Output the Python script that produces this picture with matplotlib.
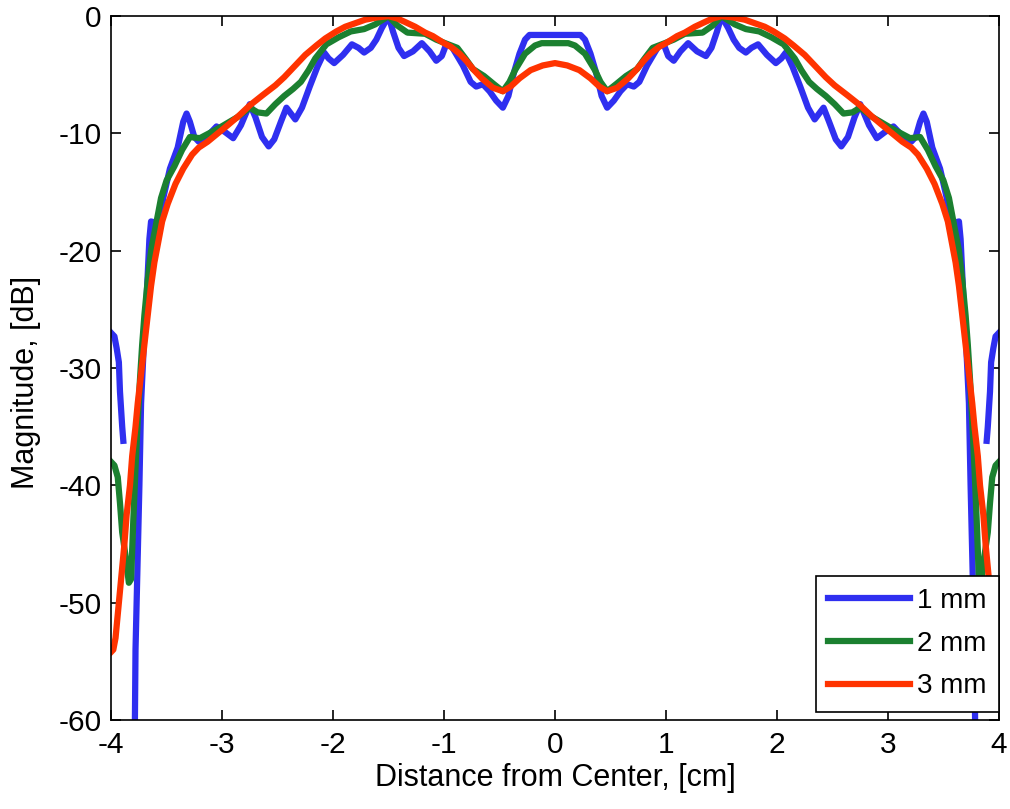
import numpy as np
import matplotlib
matplotlib.use('Agg')
import matplotlib.pyplot as plt

plt.rcParams['font.family'] = ['Liberation Sans', 'DejaVu Sans']

# --- Data (left half, x <= 0; the pattern is symmetric about x = 0) ---
x_1mm = [-4.00, -3.97, -3.95, -3.93, -3.92, -3.90, -3.89, -3.88, -3.79, -3.78,
         -3.76, -3.745, -3.73, -3.715, -3.70, -3.685, -3.67, -3.655, -3.64, -3.60,
         -3.565, -3.53, -3.47, -3.40, -3.35, -3.32, -3.29, -3.25, -3.21, -3.13,
         -3.05, -2.97, -2.90, -2.83, -2.75, -2.70, -2.64, -2.58, -2.53, -2.47,
         -2.42, -2.34, -2.28, -2.21, -2.14, -2.08, -2.04, -1.99, -1.91, -1.83,
         -1.77, -1.72, -1.66, -1.61, -1.56, -1.50, -1.46, -1.41, -1.36, -1.28,
         -1.20, -1.13, -1.07, -1.02, -0.98, -0.93, -0.88, -0.83, -0.76, -0.71,
         -0.65, -0.59, -0.53, -0.47, -0.42, -0.37, -0.32, -0.27, -0.23, -0.10, 0.00]
y_1mm = [-27.0, -27.3, -28.3, -29.5, -32.0, -35.0, -36.2, np.nan, -65.0, -54.0,
         -46.0, -40.0, -33.0, -30.0, -27.0, -25.0, -22.0, -19.0, -17.5, -17.6,
         -17.4, -15.5, -13.0, -11.2, -9.0, -8.3, -9.0, -10.3, -10.7, -10.2,
         -9.4, -9.9, -10.4, -9.3, -7.5, -8.6, -10.3, -11.1, -10.5, -9.0,
         -7.8, -8.8, -7.8, -6.0, -4.3, -3.1, -3.6, -4.0, -3.3, -2.4,
         -2.7, -3.1, -2.7, -2.0, -1.0, 0.0, -1.3, -2.7, -3.4, -3.0,
         -2.3, -3.0, -3.8, -3.4, -2.4, -2.6, -3.4, -4.2, -5.6, -6.0,
         -5.8, -6.4, -7.2, -7.8, -6.8, -4.8, -3.2, -2.0, -1.6, -1.6, -1.6]

x_2mm = [-4.00, -3.97, -3.94, -3.92, -3.90, -3.87, -3.84, -3.82, -3.80, -3.78,
         -3.76, -3.74, -3.72, -3.70, -3.67, -3.64, -3.60, -3.55, -3.50, -3.43,
         -3.36, -3.29, -3.20, -3.12, -3.04, -2.95, -2.86, -2.75, -2.68, -2.60,
         -2.52, -2.44, -2.36, -2.29, -2.22, -2.16, -2.06, -1.95, -1.84, -1.72,
         -1.62, -1.50, -1.42, -1.33, -1.17, -1.07, -0.99, -0.88, -0.80, -0.74,
         -0.64, -0.55, -0.47, -0.41, -0.36, -0.27, -0.18, -0.12, 0.00]
y_2mm = [-38.0, -38.3, -39.3, -41.5, -44.0, -46.0, -48.3, -48.0, -43.0, -38.5,
         -34.5, -31.0, -28.0, -25.5, -22.5, -20.0, -18.0, -15.5, -14.0, -12.8,
         -11.4, -10.3, -10.4, -10.0, -9.6, -9.1, -8.6, -7.8, -8.2, -8.3,
         -7.5, -6.8, -6.2, -5.6, -4.6, -3.6, -2.4, -1.8, -1.3, -1.1,
         -0.7, 0.0, -0.8, -1.4, -1.5, -2.0, -2.3, -2.7, -3.7, -4.5,
         -5.1, -5.8, -6.4, -5.6, -4.6, -3.2, -2.5, -2.3, -2.3]

x_3mm = [-4.00, -3.98, -3.96, -3.94, -3.92, -3.90, -3.88, -3.86, -3.83, -3.81,
         -3.78, -3.76, -3.73, -3.70, -3.67, -3.64, -3.61, -3.58, -3.54, -3.49,
         -3.42, -3.35, -3.27, -3.21, -3.13, -3.04, -2.95, -2.85, -2.75, -2.63,
         -2.52, -2.44, -2.35, -2.25, -2.15, -2.07, -1.97, -1.89, -1.80, -1.71,
         -1.60, -1.50, -1.42, -1.35, -1.26, -1.17, -1.10, -1.00, -0.94, -0.86,
         -0.80, -0.73, -0.66, -0.56, -0.47, -0.40, -0.32, -0.22, -0.11, 0.00]
y_3mm = [-54.2, -54.0, -53.0, -51.0, -49.0, -47.0, -45.0, -42.5, -40.0, -37.5,
         -35.0, -33.0, -30.5, -28.0, -25.5, -23.0, -21.0, -19.5, -17.5, -16.0,
         -14.3, -13.0, -11.8, -11.2, -10.7, -10.0, -9.3, -8.5, -7.6, -6.7,
         -5.9, -5.2, -4.3, -3.3, -2.5, -1.9, -1.3, -0.9, -0.6, -0.3,
         -0.1, 0.0, -0.2, -0.5, -0.9, -1.4, -1.7, -2.3, -2.6, -3.2,
         -3.8, -4.6, -5.3, -6.1, -6.4, -6.0, -5.3, -4.6, -4.2, -4.0]

labels = ['1 mm', '2 mm', '3 mm']
colors = ['#2f2ff0', '#1b8030', '#ff3300']

x_ticks = [-4, -3, -2, -1, 0, 1, 2, 3, 4]
y_ticks = [-60, -50, -40, -30, -20, -10, 0]


def mirror(xs, ys):
    xs = np.asarray(xs, dtype=float)
    ys = np.asarray(ys, dtype=float)
    return (np.concatenate([xs, -xs[::-1][1:]]),
            np.concatenate([ys, ys[::-1][1:]]))


fig = plt.figure(figsize=(10.10, 8.09), dpi=100)
ax = fig.add_axes([0.110, 0.110, 0.879, 0.870])

for (xs, ys), lab, col in zip([mirror(x_1mm, y_1mm), mirror(x_2mm, y_2mm), mirror(x_3mm, y_3mm)],
                              labels, colors):
    ax.plot(xs, ys, color=col, lw=4.5, label=lab)

ax.set_xlim(-4, 4)
ax.set_ylim(-60, 0)
ax.set_xticks(x_ticks)
ax.set_yticks(y_ticks)
ax.set_xticklabels([str(t) for t in x_ticks])
ax.set_yticklabels([str(t) for t in y_ticks])
ax.tick_params(direction='in', length=7, width=1.2, top=True, right=True,
               labelsize=21.5)
ax.tick_params(axis='y', pad=7)
ax.tick_params(axis='x', pad=8)
for s in ax.spines.values():
    s.set_linewidth(1.2)

ax.set_xlabel('Distance from Center, [cm]', fontsize=22, labelpad=3)
ax.set_ylabel('Magnitude, [dB]', fontsize=22)
ax.yaxis.set_label_coords(-0.079, 0.48)

leg = ax.legend(loc='lower right', bbox_to_anchor=(1.0, 0.0114), borderaxespad=0,
                fontsize=20, handlelength=2.95, handletextpad=0.25, borderpad=0.45,
                labelspacing=0.6, fancybox=False, framealpha=1,
                edgecolor='black')
leg.get_frame().set_linewidth(1.2)

fig.savefig('out.png', dpi=100)
